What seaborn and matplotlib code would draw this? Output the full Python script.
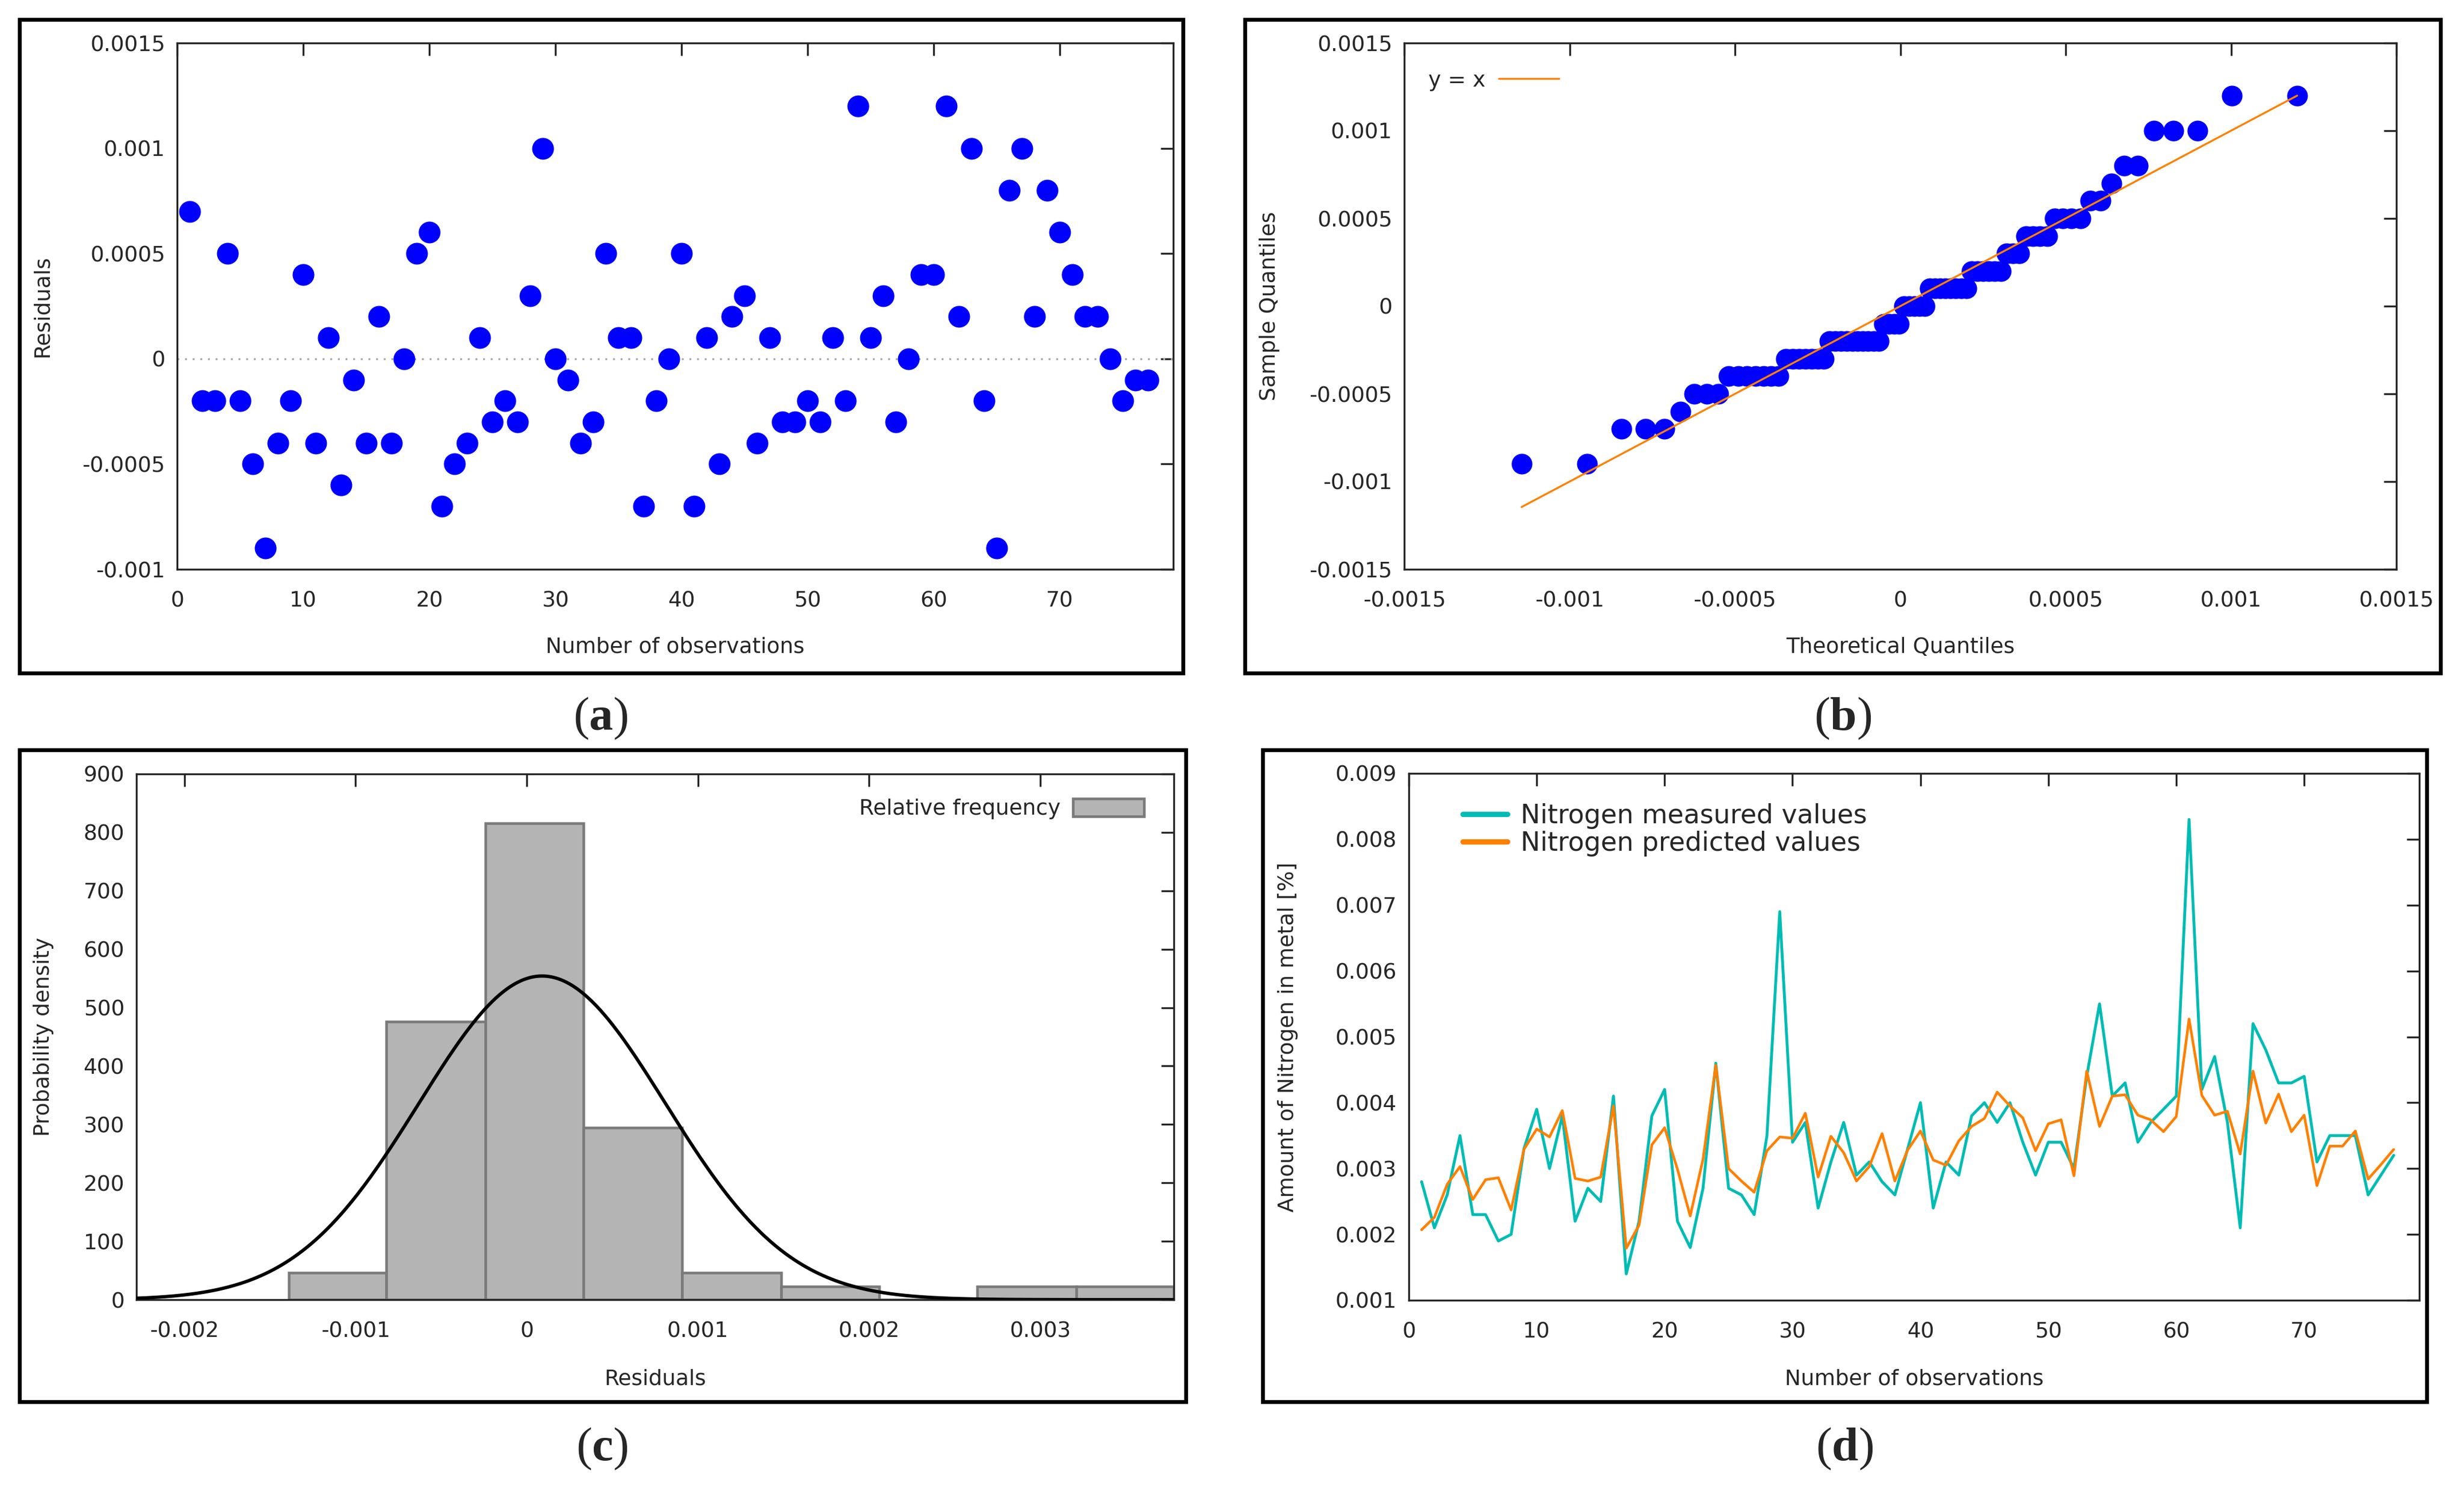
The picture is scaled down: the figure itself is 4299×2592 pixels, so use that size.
import matplotlib
matplotlib.use("Agg")
import matplotlib.pyplot as plt
import matplotlib.patches as mpatches
from matplotlib.lines import Line2D
import numpy as np
import pandas as pd
import seaborn as sns
from statistics import NormalDist

# ---- data ----
obs = list(range(1, 78))

# (a) residuals, units of 1e-4
residuals_e4 = [7, -2, -2, 5, -2, -5, -9, -4, -2, 4,
                -4, 1, -6, -1, -4, 2, -4, 0, 5, 6,
                -7, -5, -4, 1, -3, -2, -3, 3, 10, 0,
                -1, -4, -3, 5, 1, 1, -7, -2, 0, 5,
                -7, 1, -5, 2, 3, -4, 1, -3, -3, -2,
                -3, 1, -2, 12, 1, 3, -3, 0, 4, 4,
                12, 2, 10, -2, -9, 8, 10, 2, 8, 6,
                4, 2, 2, 0, -2, -1, -1]
residuals = [v * 1e-4 for v in residuals_e4]

# (c) histogram of residuals
hist_edges = [-0.00139, -0.000821, -0.000242, 0.000332, 0.000907,
              0.001486, 0.00206, 0.00263, 0.00321, 0.00378]
hist_density = [46, 476, 816, 294, 46, 23, 0, 23, 23]
fit_mean = 0.00009
fit_std = 0.00072

# (d) nitrogen, units of 1e-3 %
measured_e3 = [2.8, 2.1, 2.6, 3.5, 2.3, 2.3, 1.9, 2.0, 3.3, 3.9,
               3.0, 3.8, 2.2, 2.7, 2.5, 4.1, 1.4, 2.2, 3.8, 4.2,
               2.2, 1.8, 2.7, 4.6, 2.7, 2.6, 2.3, 3.5, 6.9, 3.4,
               3.7, 2.4, 3.1, 3.7, 2.9, 3.1, 2.8, 2.6, 3.3, 4.0,
               2.4, 3.1, 2.9, 3.8, 4.0, 3.7, 4.0, 3.4, 2.9, 3.4,
               3.4, 3.0, 4.4, 5.5, 4.1, 4.3, 3.4, 3.7, 3.9, 4.1,
               8.3, 4.2, 4.7, 3.7, 2.1, 5.2, 4.8, 4.3, 4.3, 4.4,
               3.1, 3.5, 3.5, 3.5, 2.6, 2.9, 3.2]
predicted_e3 = [2.07, 2.26, 2.76, 3.03, 2.53, 2.83, 2.86, 2.37, 3.29, 3.6,
                3.48, 3.88, 2.85, 2.81, 2.87, 3.95, 1.79, 2.14, 3.36, 3.62,
                2.99, 2.28, 3.14, 4.57, 3.0, 2.81, 2.64, 3.27, 3.48, 3.46,
                3.84, 2.87, 3.49, 3.24, 2.81, 3.03, 3.53, 2.81, 3.28, 3.57,
                3.13, 3.05, 3.42, 3.64, 3.76, 4.16, 3.95, 3.77, 3.27, 3.68,
                3.74, 2.89, 4.48, 3.64, 4.1, 4.12, 3.81, 3.74, 3.56, 3.79,
                5.27, 4.11, 3.81, 3.87, 3.22, 4.48, 3.69, 4.13, 3.56, 3.81,
                2.74, 3.34, 3.34, 3.57, 2.84, 3.06, 3.29]
measured = [v * 1e-3 for v in measured_e3]
predicted = [v * 1e-3 for v in predicted_e3]

# ---- style ----
sns.set_style("white")
plt.rcParams['font.family'] = ['DejaVu Sans']
plt.rcParams['mathtext.fontset'] = 'custom'
plt.rcParams['mathtext.rm'] = 'Liberation Serif'
plt.rcParams['mathtext.bf'] = 'Liberation Serif:bold'

W, H = 4299, 2592
fig = plt.figure(figsize=(W / 300, H / 300), dpi=300)


def px_axes(x0, y0, x1, y1):
    return fig.add_axes([x0 / W, 1 - y1 / H, (x1 - x0) / W, (y1 - y0) / H])


def frame(x0, y0, x1, y1):
    fig.patches.append(mpatches.Rectangle((x0 / W, 1 - y1 / H), (x1 - x0) / W, (y1 - y0) / H,
                                          transform=fig.transFigure, fill=False,
                                          lw=1.6, ec='black'))


def style(ax, xpad=9, ypad=5):
    for sp in ax.spines.values():
        sp.set_visible(True)
        sp.set_linewidth(0.8)
        sp.set_color('#262626')
    ax.tick_params(direction='in', length=5.3, width=0.8, color='#262626',
                   top=True, right=True, labelsize=9)
    ax.tick_params(axis='x', pad=xpad)
    ax.tick_params(axis='y', pad=ypad)
    ax.grid(False)
    ax.xaxis.label.set_va('center')
    ax.yaxis.label.set_va('center')


BLUE = '#0000ff'
TEAL = '#00bcb4'
ORANGE = '#ff8000'

# (a) residuals vs observation
ax = px_axes(309, 75, 2047, 993)
ax.axhline(0, color='#a8a8a8', lw=0.8, ls=(0, (1, 3)), zorder=1)
sns.scatterplot(x=obs, y=residuals, ax=ax, color=BLUE, s=83, linewidth=0, zorder=3)
ax.set_xlim(0, 79)
ax.set_ylim(-0.001, 0.0015)
ax.set_xticks([0, 10, 20, 30, 40, 50, 60, 70])
ax.set_yticks([-0.001, -0.0005, 0, 0.0005, 0.001, 0.0015],
              ['-0.001', '-0.0005', '0', '0.0005', '0.001', '0.0015'])
ax.set_xlabel('Number of observations', fontsize=9)
ax.set_ylabel('Residuals', fontsize=9)
style(ax)
ax.xaxis.set_label_coords(0.5, -0.148)
ax.yaxis.set_label_coords(-0.135, 0.5)

# (b) normal Q-Q plot of the residuals
sample_q = np.sort(residuals)
n = len(sample_q)
dist = NormalDist(float(np.mean(residuals)), float(np.std(residuals, ddof=1)))
theo_q = [dist.inv_cdf((i - 0.5) / n) for i in range(1, n + 1)]

ax = px_axes(2450, 75, 4181, 993)
sns.lineplot(x=[theo_q[0], theo_q[-1]], y=[theo_q[0], theo_q[-1]], ax=ax,
             color=ORANGE, lw=0.8, zorder=4)
sns.scatterplot(x=theo_q, y=sample_q, ax=ax, color=BLUE, s=75, linewidth=0, zorder=3)
ax.set_xlim(-0.0015, 0.0015)
ax.set_ylim(-0.0015, 0.0015)
qt = [-0.0015, -0.001, -0.0005, 0, 0.0005, 0.001, 0.0015]
ql = ['-0.0015', '-0.001', '-0.0005', '0', '0.0005', '0.001', '0.0015']
ax.set_xticks(qt, ql)
ax.set_yticks(qt, ql)
ax.set_xlabel('Theoretical Quantiles', fontsize=9)
ax.set_ylabel('Sample Quantiles', fontsize=9)
style(ax)
ax.xaxis.set_label_coords(0.5, -0.148)
ax.yaxis.set_label_coords(-0.1358, 0.5)
ax.legend(handles=[Line2D([], [], color=ORANGE, lw=0.8)], labels=['y = x'],
          loc='upper left', bbox_to_anchor=(0.005, 0.985), frameon=False,
          markerfirst=False, fontsize=9, handlelength=2.8, handletextpad=0.6)

# (c) histogram with fitted normal density
centers = [(a + b) / 2 for a, b in zip(hist_edges[:-1], hist_edges[1:])]
ax = px_axes(238, 1350, 2048, 2267)
sns.histplot(x=centers, weights=hist_density, bins=hist_edges, ax=ax,
             color='#b4b4b4', edgecolor='#7a7a7a', linewidth=1.1, alpha=1, zorder=2)
xc = np.linspace(-0.00228, 0.00378, 500)
yc = np.exp(-0.5 * ((xc - fit_mean) / fit_std) ** 2) / (fit_std * np.sqrt(2 * np.pi))
sns.lineplot(x=xc, y=yc, ax=ax, color='black', lw=1.4, zorder=4)
ax.set_xlim(-0.00228, 0.00378)
ax.set_ylim(0, 900)
ax.set_xticks([-0.002, -0.001, 0, 0.001, 0.002, 0.003],
              ['-0.002', '-0.001', '0', '0.001', '0.002', '0.003'])
ax.set_yticks(range(0, 1000, 100))
ax.set_xlabel('Residuals', fontsize=9)
ax.set_ylabel('Probability density', fontsize=9)
style(ax)
ax.xaxis.set_label_coords(0.5, -0.1505)
ax.yaxis.set_label_coords(-0.0895, 0.5)
ax.legend(handles=[mpatches.Patch(facecolor='#b4b4b4', edgecolor='#7a7a7a', lw=1.1)],
          labels=['Relative frequency'], loc='upper right', bbox_to_anchor=(0.99, 0.99),
          frameon=False, markerfirst=False, fontsize=9, handlelength=3.3,
          handleheight=0.9, handletextpad=0.6)

# (d) measured vs predicted nitrogen
ax = px_axes(2458, 1349, 4221, 2268)
sns.lineplot(x=obs, y=measured, ax=ax, color=TEAL, lw=1.2, label='Nitrogen measured values')
sns.lineplot(x=obs, y=predicted, ax=ax, color=ORANGE, lw=1.1, label='Nitrogen predicted values')
ax.set_xlim(0, 79)
ax.set_ylim(0.001, 0.009)
ax.set_xticks([0, 10, 20, 30, 40, 50, 60, 70])
ax.set_yticks([0.001 * k for k in range(1, 10)], ['0.%03d' % k for k in range(1, 10)])
ax.set_xlabel('Number of observations', fontsize=9)
ax.set_ylabel('Amount of Nitrogen in metal [%]', fontsize=9)
style(ax)
ax.xaxis.set_label_coords(0.5, -0.150)
ax.yaxis.set_label_coords(-0.1197, 0.5)
ax.legend(loc='upper left', bbox_to_anchor=(0.03, 0.988), frameon=False, fontsize=11,
          handlelength=1.7, handletextpad=0.5, labelspacing=0.05)
for line in ax.get_legend().get_lines():
    line.set_linewidth(2.2)

# panel frames and captions
frame(34, 34, 2064, 1174)
frame(2172, 34, 4258, 1174)
frame(34, 1308, 2069, 2445)
frame(2203, 1308, 4234, 2445)
for lab, x, y in [('a', 1048, 1253), ('b', 3215, 1253), ('c', 1050, 2527), ('d', 3218, 2527)]:
    fig.text(x / W, 1 - y / H, '(' + r'$\mathbf{' + lab + '}$' + ')', ha='center', va='center',
             fontsize=20, family='Liberation Serif')

fig.savefig('out.png', dpi=300)
